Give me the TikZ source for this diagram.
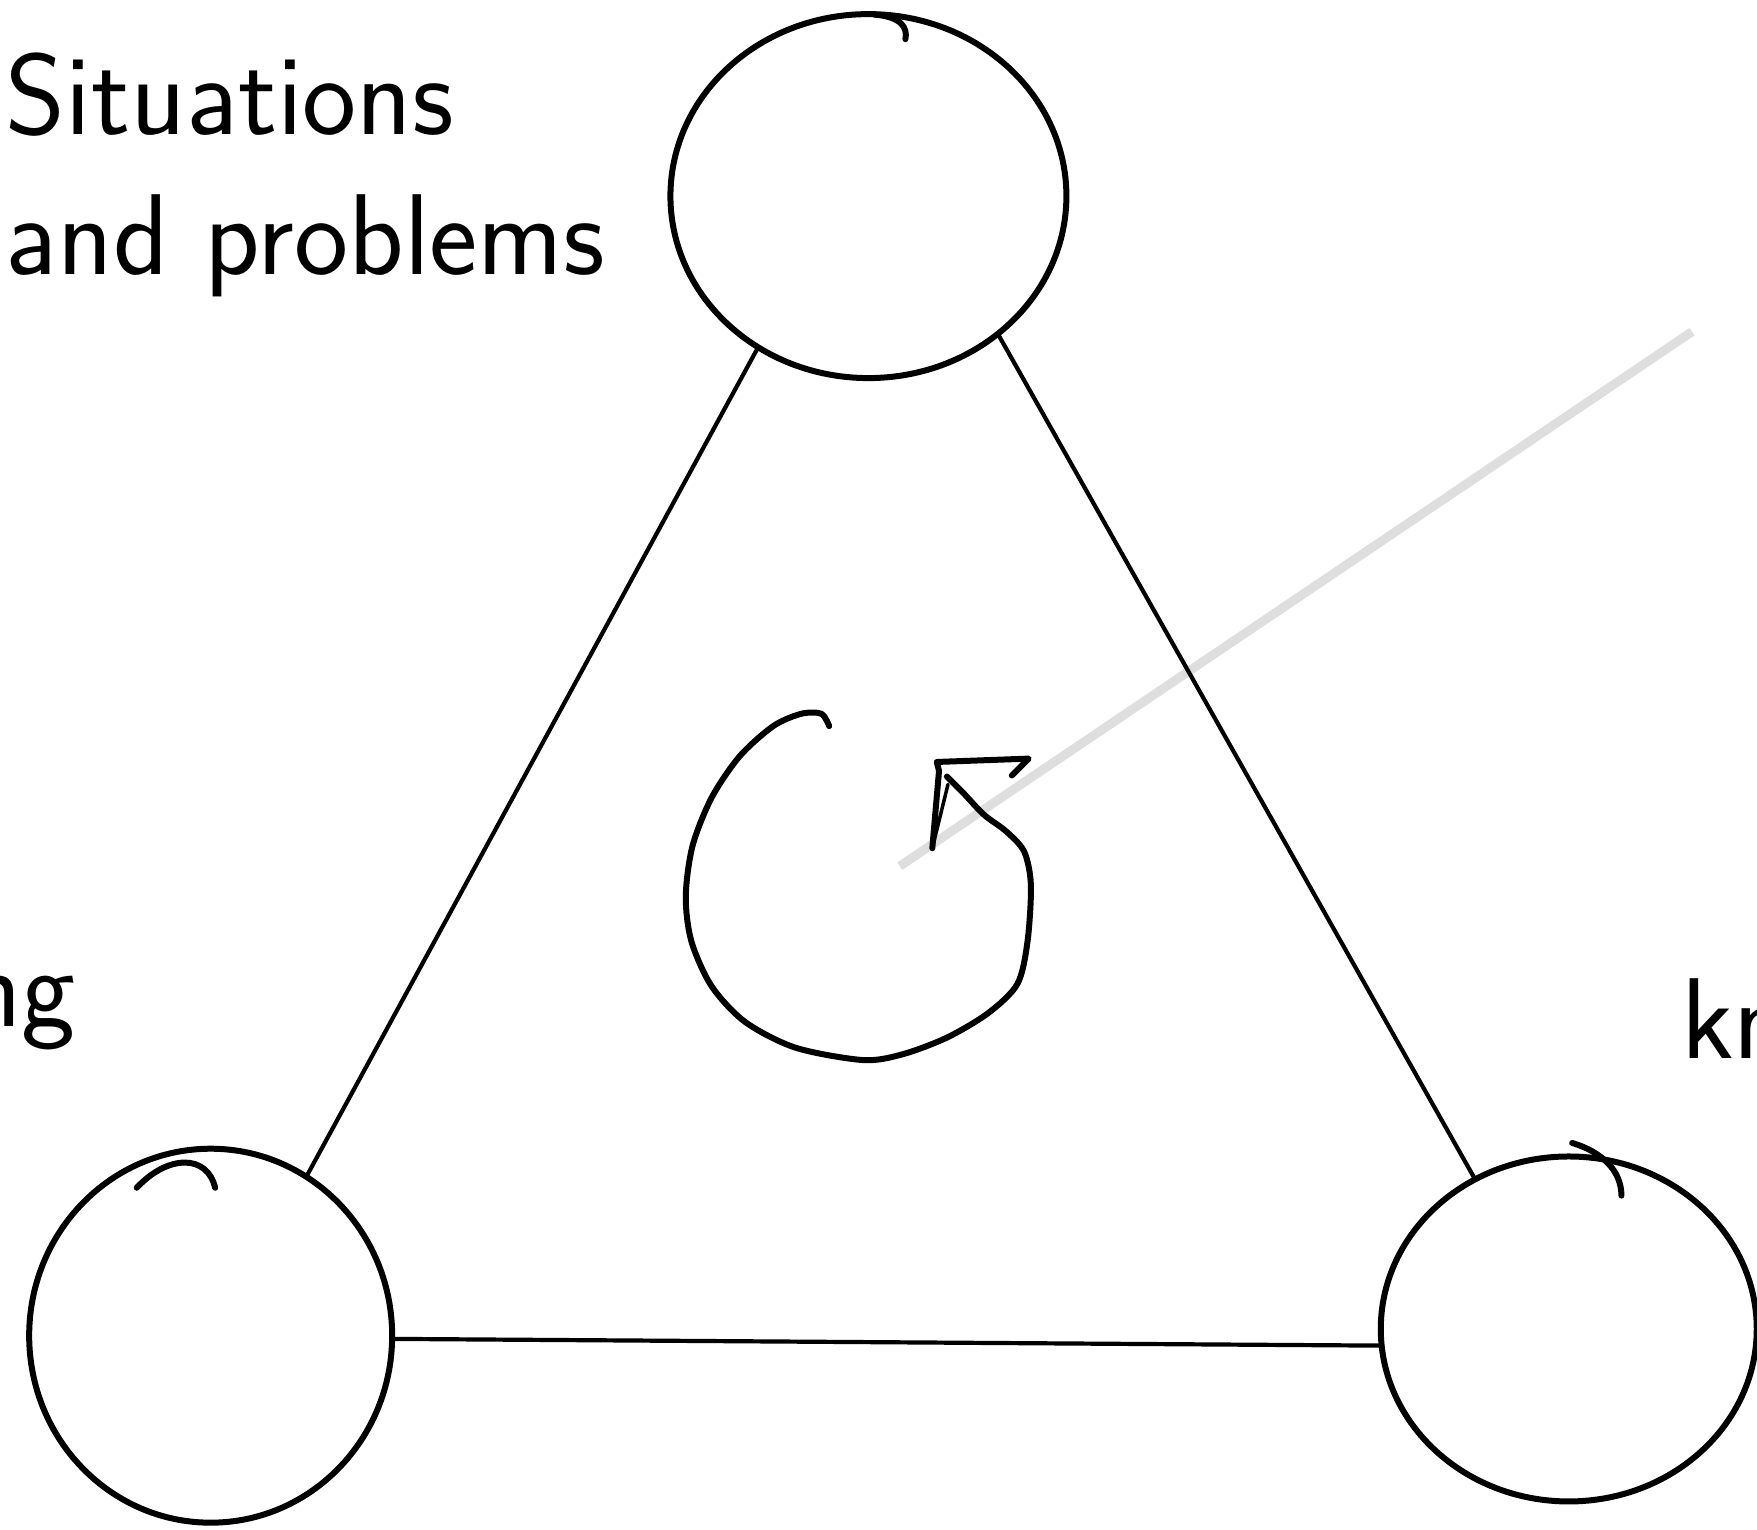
\documentclass[tikz,border=0pt]{standalone}
\usetikzlibrary{shapes.geometric}
\begin{document}
\begin{tikzpicture}[x=1.1206pt,y=-1.1206pt,
 ring/.style={draw,ellipse,line width=6pt,inner sep=0pt},
 edge/.style={line width=4.2pt,line cap=round},
 hand/.style={font=\fontsize{115}{130}\selectfont\sffamily,inner sep=0pt,anchor=base west},
 pen/.style={line width=6pt,line cap=round,line join=round},
 pointer/.style={line width=9pt,black!13}]
\useasboundingbox (0,0) rectangle (1568,1365);
% grey pointer
\coordinate (g1) at (1510,296);
\coordinate (g2) at (803,773);
\draw[pointer] (g1) -- (g2);
% circles
\node[ring,minimum width=396pt,minimum height=364pt] (top) at (775,175) {};
\node[ring,minimum width=363pt,minimum height=374pt] (bl) at (188,1192) {};
\node[ring,minimum width=376pt,minimum height=345pt] (br) at (1400,1186) {};
% triangle sides
\draw[edge] (top.234) -- (bl.59);
\draw[edge] (top.-47) -- (br.122);
\draw[edge] (bl.-1) -- (br.185);
% pen overlaps
\draw[pen] (122,1060) .. controls (150,1030) and (185,1030) .. (192,1060);
\draw[pen] (780,13) .. controls (805,15) and (810,25) .. (808,35);
\draw[pen] (1403,1020) .. controls (1430,1028) and (1447,1045) .. (1447,1067);
% cycle arrow
\draw[pen] plot[smooth, tension=0.5] coordinates {(740,648) (733,637) (715,637) (690,648) (660,675) (635,712) (618,755) (612,800) (617,840) (635,880) (665,912) (710,935) (770,946) (805,941) (845,926) (882,904) (908,878) (917,840) (920,790) (914,760) (898,742) (878,727) (860,708) (845,693)};
\draw[pen] (832,757) -- (838,688) -- (836,680) -- (918,677) -- (903,692);
\draw[pen,line width=3.5pt] (832,757) -- (846,700);
% texts
\node[hand] (t1) at (5,120) {Situations};
\node[hand] (t2) at (5,245) {and problems};
\node[hand,anchor=base east] (t3) at (68,916) {ng};
\node[hand] (t4) at (1500,945) {kn};
\end{tikzpicture}
\end{document}
